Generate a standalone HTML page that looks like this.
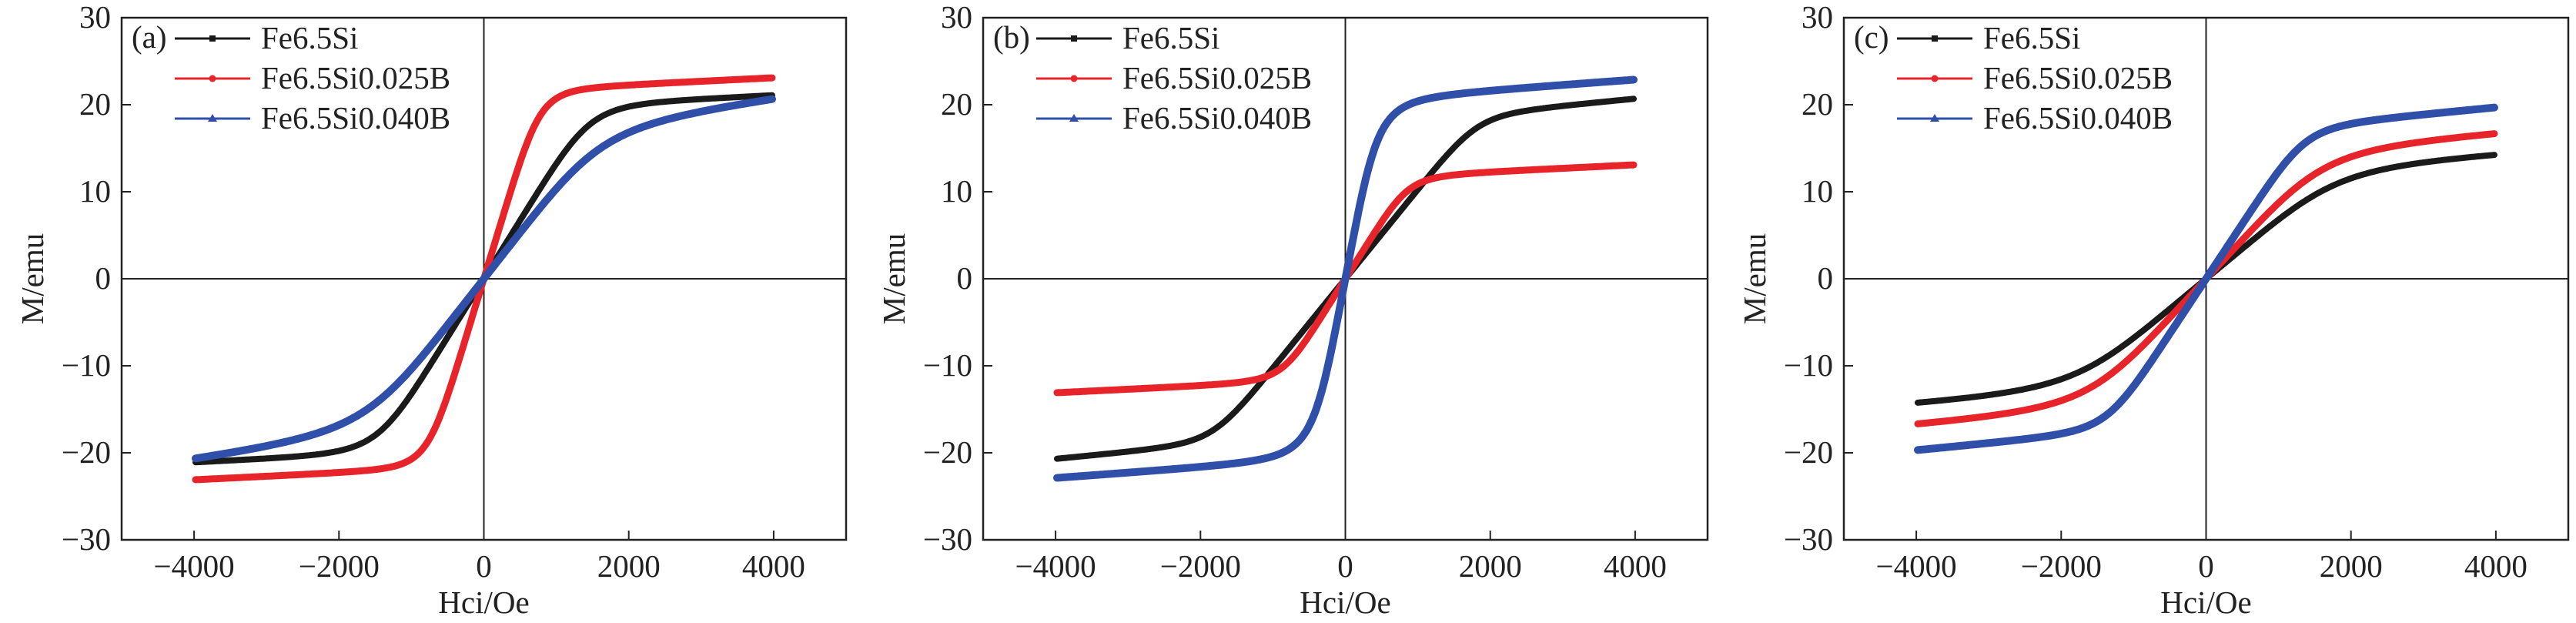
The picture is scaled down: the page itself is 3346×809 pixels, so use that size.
<!DOCTYPE html>
<html><head><meta charset="utf-8"><style>
html,body{margin:0;padding:0;background:#fff}
svg{display:block}
text{font-family:"Liberation Serif",serif;fill:#222}
</style></head><body>
<svg id="s" width="3346" height="809" viewBox="0 0 3346 809" xmlns="http://www.w3.org/2000/svg">
<g id="pa" transform="translate(158,0)">
<text x="13" y="62" font-size="41">(a)</text>
</g>
<g id="pb" transform="translate(1277,0)">
<text x="13" y="62" font-size="41">(b)</text>
</g>
<g id="pc" transform="translate(2395,0)">
<text x="13" y="62" font-size="41">(c)</text>
</g>
</svg>
<script>
var NS="http://www.w3.org/2000/svg";
function el(p,t,a,txt){var e=document.createElementNS(NS,t);for(var k in a)e.setAttribute(k,a[k]);if(txt!==undefined)e.textContent=txt;p.appendChild(e);return e;}
var W=941,T=23,B=701;
function px(h){return (h+5000)*W/10000;}
function py(m){return 362-m*11.3;}
function M(h,c){var s=h<0?-1:1,x=Math.abs(h)/c[1];return s*(c[0]*x/Math.pow(1+Math.pow(x,c[2]),1/c[2])+c[3]*Math.abs(h));}
var cols=["#1a1a1a","#e8242b","#2f4fa8"];
var P={
pa:[[19.5,1500,6,0.0004],[21.5,800,5,0.0004],[16,1700,4,0.0012]],
pb:[[17.5,1850,8,0.0008],[11.5,900,5,0.0004],[20.5,480,3,0.0006]],
pc:[[12,1900,4,0.0006],[14,1700,4,0.0007],[16.5,1400,6,0.0008]]};
var names=["Fe6.5Si","Fe6.5Si0.025B","Fe6.5Si0.040B"];
for(var id in P){
 var g=document.getElementById(id);
 el(g,"rect",{x:0,y:T,width:W,height:B-T,fill:"none",stroke:"#222","stroke-width":2.5});
 el(g,"line",{x1:px(0),y1:T,x2:px(0),y2:B,stroke:"#222","stroke-width":2});
 el(g,"line",{x1:0,y1:py(0),x2:W,y2:py(0),stroke:"#222","stroke-width":2});
 for(var v=-4000;v<=4000;v+=2000){var x=px(v);el(g,"line",{x1:x,y1:B,x2:x,y2:B-12,stroke:"#222","stroke-width":2});
  el(g,"text",{x:x,y:749,"font-size":41,"text-anchor":"middle"},(v<0?"\u2212":"")+Math.abs(v));}
 for(var m=-30;m<=30;m+=10){var y=py(m);el(g,"line",{x1:0,y1:y,x2:12,y2:y,stroke:"#222","stroke-width":2});
  el(g,"text",{x:-14,y:y+13,"font-size":41,"text-anchor":"end"},(m<0?"\u2212":"")+Math.abs(m));}
 el(g,"text",{x:px(0),y:796,"font-size":41,"text-anchor":"middle"},"Hci/Oe");
 el(g,"text",{x:0,y:0,"font-size":41,"text-anchor":"middle",transform:"translate(-102,362) rotate(-90)"},"M/emu");
 var cs=P[id];
 for(var i=0;i<3;i++){
  var d="";for(var h=-3980;h<=3980;h+=20){d+=(h==-3980?"M":"L")+px(h).toFixed(1)+" "+py(M(h,cs[i])).toFixed(1);}
  el(g,"path",{d:d,fill:"none",stroke:cols[i],"stroke-width":[8,9,10][i],"stroke-linejoin":"round","stroke-linecap":"round"});
  var ly=50+i*52;
  el(g,"line",{x1:69,y1:ly,x2:167,y2:ly,stroke:cols[i],"stroke-width":3});
  if(i==0)el(g,"rect",{x:114,y:ly-4,width:8,height:8,fill:cols[i]});
  else if(i==1)el(g,"circle",{cx:118,cy:ly,r:4.5,fill:cols[i]});
  else el(g,"polygon",{points:"118,"+(ly-6)+" 112,"+(ly+4)+" 124,"+(ly+4),fill:cols[i]});
  el(g,"text",{x:181,y:ly+13,"font-size":41},names[i]);
 }
}
</script>
</body></html>
